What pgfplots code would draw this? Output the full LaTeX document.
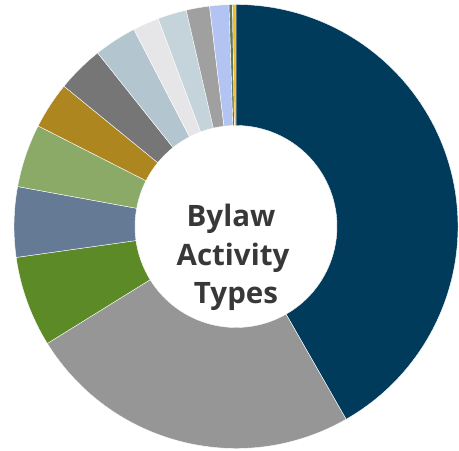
\documentclass[border=0pt]{standalone}
\usepackage{pgfplots}
\pgfplotsset{compat=1.18}
\usepackage{pgfplotstable}
\usepackage{fontspec}
\setmainfont{Open Sans}
\definecolor{cA}{HTML}{003B5C}
\definecolor{cB}{HTML}{969696}
\definecolor{cC}{HTML}{5B8A27}
\definecolor{cD}{HTML}{647A95}
\definecolor{cE}{HTML}{8BAA68}
\definecolor{cF}{HTML}{AE8620}
\definecolor{cG}{HTML}{767676}
\definecolor{cH}{HTML}{B3C5CF}
\definecolor{cI}{HTML}{E6E6E8}
\definecolor{cJ}{HTML}{C5D3DB}
\definecolor{cK}{HTML}{A0A0A0}
\definecolor{cL}{HTML}{B4C4F2}
\definecolor{cM}{HTML}{5F7A5A}
\definecolor{cN}{HTML}{F2B92E}
\definecolor{txt}{HTML}{383838}
\pgfplotstableread{
label value color
T01 41.7 cA
T02 24.4 cB
T03 6.6 cC
T04 5.1 cD
T05 4.6 cE
T06 3.4 cF
T07 3.4 cG
T08 3.1 cH
T09 1.9 cI
T10 2.1 cJ
T11 1.7 cK
T12 1.4 cL
T13 0.25 cM
T14 0.25 cN
}\datatable
\begin{document}
\begin{tikzpicture}
\begin{axis}[name=ax,width=444bp,height=444bp,scale only axis,
  xmin=-222,xmax=222,ymin=-222,ymax=222,hide axis,clip=false]
\addplot[draw=none] coordinates {(0,0)};
\pgfplotsextra{
  \pgfplotstablegetrowsof{\datatable}\pgfmathtruncatemacro\nrows{\pgfplotsretval-1}
  \gdef\total{0}
  \foreach \i in {0,...,\nrows} {
    \pgfplotstablegetelem{\i}{value}\of\datatable
    \pgfmathsetmacro\tmp{\total+\pgfplotsretval}
    \global\let\total\tmp
  }
  \gdef\startang{90}
  \foreach \i in {0,...,\nrows} {
    \pgfplotstablegetelem{\i}{value}\of\datatable \let\val\pgfplotsretval
    \pgfplotstablegetelem{\i}{color}\of\datatable \let\col\pgfplotsretval
    \pgfmathsetmacro\endang{\startang - \val/\total*360}
    \fill[fill=\col, draw=white, line width=0.4bp]
      (axis cs:{222*cos(\startang)},{222*sin(\startang)})
      arc[start angle=\startang, end angle=\endang, radius=222bp]
      -- (axis cs:{101*cos(\endang)},{101*sin(\endang)})
      arc[start angle=\endang, end angle=\startang, radius=101bp] -- cycle;
    \global\let\startang\endang
  }
  \node[anchor=base, text=txt, font=\bfseries\fontsize{29.5bp}{34bp}\selectfont] at (axis cs:-5,-0.2) {Bylaw};
  \node[anchor=base, text=txt, font=\bfseries\fontsize{29.5bp}{34bp}\selectfont] at (axis cs:-3,-39.5) {Activity};
  \node[anchor=base, text=txt, font=\bfseries\fontsize{29.5bp}{34bp}\selectfont] at (axis cs:0,-76.8) {Types};
}
\end{axis}
\pgfresetboundingbox
\path ([shift={(-236bp,-224.5bp)}]ax.center) rectangle ([shift={(223bp,226.5bp)}]ax.center);
\end{tikzpicture}
\end{document}
